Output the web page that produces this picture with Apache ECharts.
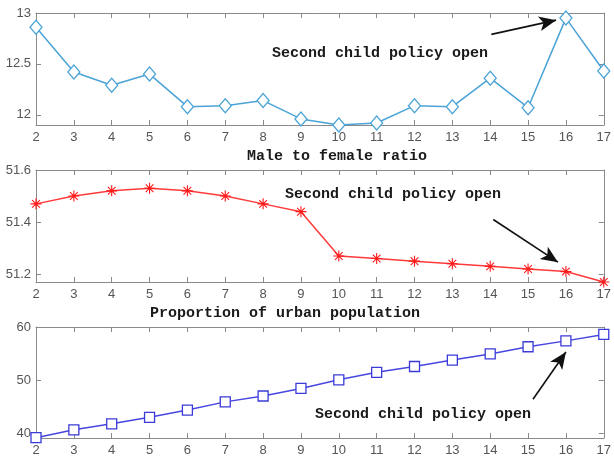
<!DOCTYPE html>
<html><head><meta charset="utf-8">
<script src="https://cdn.jsdelivr.net/npm/echarts@6/dist/echarts.min.js"></script>
<style>html,body{margin:0;padding:0;background:#fff}#c{width:614px;height:460px}</style>
</head><body><div id="c"></div>
<script>
const years = [2,3,4,5,6,7,8,9,10,11,12,13,14,15,16,17];
const birthRate = [12.86,12.42,12.29,12.40,12.08,12.09,12.14,11.96,11.90,11.92,12.09,12.08,12.36,12.07,12.95,12.43];
const sexRatio = [51.47,51.50,51.52,51.53,51.52,51.50,51.47,51.44,51.27,51.26,51.25,51.24,51.23,51.22,51.21,51.17];
const urbanRate = [39.26,40.74,41.85,43.08,44.43,45.97,47.07,48.49,50.10,51.50,52.60,53.80,54.96,56.30,57.40,58.60];
const xTicks = [2,3,4,5,6,7,8,9,10,11,12,13,14,15,16,17];
const yTicks1 = [12,12.5,13];
const yTicks2 = [51.2,51.4,51.6];
const yTicks3 = [40,50,60];
const titles = ['Male to female ratio','Proportion of urban population'];
const note = 'Second child policy open';

const frameColor = '#8a8a8a';
const labelStyle = {color:'#555', fontSize:13, fontFamily:'Liberation Sans, Arial, sans-serif'};
const monoFont = '"Liberation Mono", "DejaVu Sans Mono", monospace';
const starPath = 'path://M0 9L20 9L20 11L0 11ZM9 0L11 0L11 20L9 20ZM3.7 2.3L17.7 16.3L16.3 17.7L2.3 3.7ZM16.3 2.3L17.7 3.7L3.7 17.7L2.3 16.3Z';

const grids = [
  {left:36, right:8, top:13, height:112},
  {left:36, right:8, top:170, height:112},
  {left:36, right:8, top:327, height:111}
];
const yRanges = [[11.9,13],[51.17,51.6],[39.2,60]];
const yTickSets = [yTicks1,yTicks2,yTicks3];

const xAxes = [], yAxes = [];
grids.forEach((g,i)=>{
  xAxes.push({type:'value', gridIndex:i, min:2, max:17, interval:1, position:'bottom',
    axisLine:{show:true, onZero:false, lineStyle:{color:frameColor}},
    axisTick:{show:true, inside:true, length:5, lineStyle:{color:frameColor}},
    axisLabel:Object.assign({margin:6}, labelStyle),
    splitLine:{show:false}});
  xAxes.push({type:'value', gridIndex:i, min:2, max:17, interval:1, position:'top',
    axisLine:{show:true, onZero:false, lineStyle:{color:frameColor}},
    axisTick:{show:true, inside:true, length:5, lineStyle:{color:frameColor}},
    axisLabel:{show:false}, splitLine:{show:false}});
  yAxes.push({type:'value', gridIndex:i, min:yRanges[i][0], max:yRanges[i][1], position:'left',
    axisLine:{show:true, onZero:false, lineStyle:{color:frameColor}},
    axisTick:{show:true, inside:true, length:5, customValues:yTickSets[i], lineStyle:{color:frameColor}},
    axisLabel:Object.assign({margin:5, customValues:yTickSets[i]}, labelStyle),
    splitLine:{show:false}});
  yAxes.push({type:'value', gridIndex:i, min:yRanges[i][0], max:yRanges[i][1], position:'right',
    axisLine:{show:true, onZero:false, lineStyle:{color:frameColor}},
    axisTick:{show:true, inside:true, length:5, customValues:yTickSets[i], lineStyle:{color:frameColor}},
    axisLabel:{show:false}, splitLine:{show:false}});
});

function arrow(from, to){
  return {silent:true, symbol:['none','arrow'], symbolSize:[11,17],
    lineStyle:{color:'#111', width:1.6, type:'solid'}, label:{show:false},
    data:[[{coord:from},{coord:to}]], animation:false};
}

const series = [
  {type:'line', xAxisIndex:0, yAxisIndex:0, data:years.map((x,i)=>[x,birthRate[i]]),
    lineStyle:{color:'#4aa3d6', width:1.5}, symbol:'diamond', symbolSize:[12,14], showAllSymbol:true,
    itemStyle:{color:'#ffffff', borderColor:'#4aa3d6', borderWidth:1.3},
    markLine:arrow([14.03,12.79],[15.74,12.93])},
  {type:'line', xAxisIndex:2, yAxisIndex:2, data:years.map((x,i)=>[x,sexRatio[i]]),
    lineStyle:{color:'#ff3a3a', width:1.5}, symbol:starPath, symbolSize:11, showAllSymbol:true,
    itemStyle:{color:'#ff1a1a'},
    markLine:arrow([14.08,51.41],[15.79,51.246])},
  {type:'line', xAxisIndex:4, yAxisIndex:4, data:years.map((x,i)=>[x,urbanRate[i]]),
    lineStyle:{color:'#4646e0', width:1.5}, symbol:'rect', symbolSize:10, showAllSymbol:true,
    itemStyle:{color:'#ffffff', borderColor:'#3a3ad8', borderWidth:1.3},
    markLine:arrow([15.13,46.46],[16.0,55.33])}
];

const textStyleMono = {fill:'#1a1a1a', font:'bold 15px ' + monoFont, textAlign:'left', textVerticalAlign:'middle'};
const graphic = [
  {type:'text', left:272, top:46, style:Object.assign({text:note}, textStyleMono)},
  {type:'text', left:285, top:187, style:Object.assign({text:note}, textStyleMono)},
  {type:'text', left:315, top:407, style:Object.assign({text:note}, textStyleMono)},
  {type:'text', left:247, top:149, style:Object.assign({text:titles[0]}, textStyleMono)},
  {type:'text', left:150, top:306, style:Object.assign({text:titles[1]}, textStyleMono)}
];

const chart = echarts.init(document.getElementById('c'), null, {renderer:'canvas'});
chart.setOption({
  animation:false,
  backgroundColor:'#ffffff',
  grid:grids,
  xAxis:xAxes,
  yAxis:yAxes,
  series:series,
  graphic:graphic
});
</script></body></html>
